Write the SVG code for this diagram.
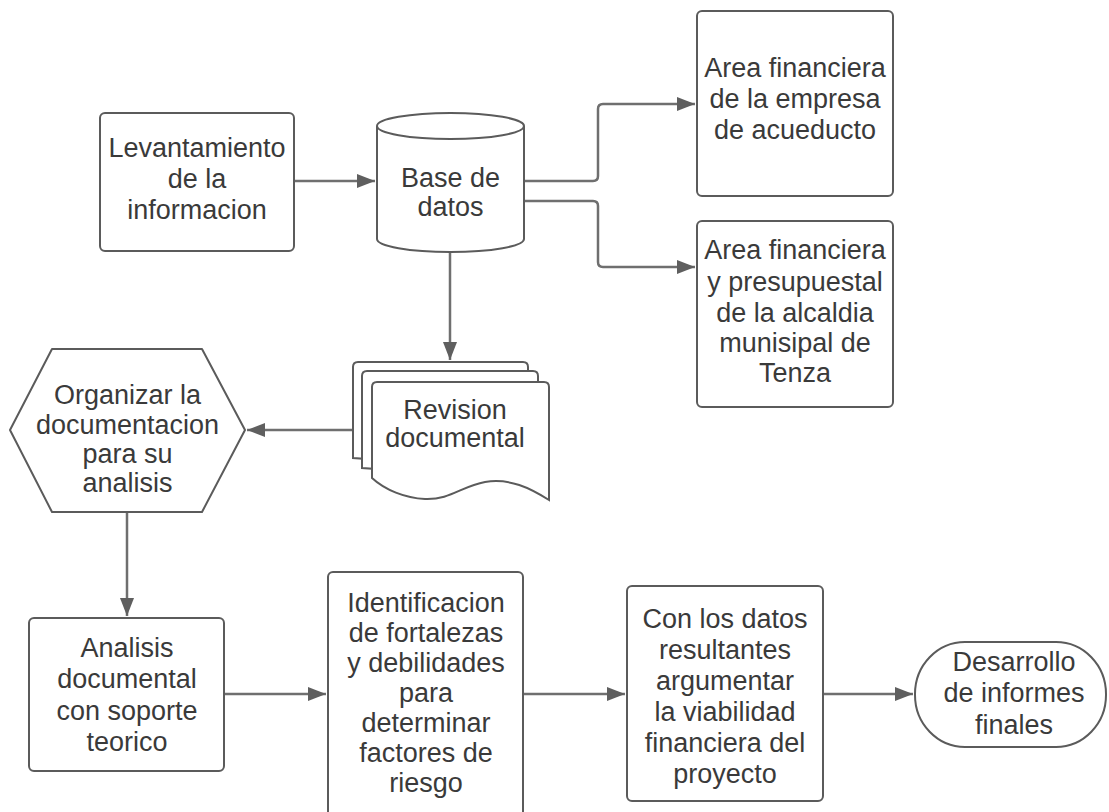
<svg xmlns="http://www.w3.org/2000/svg" width="1109" height="812" viewBox="0 0 1109 812">
<style>
.s{fill:#fff;stroke:#5b5b5b;stroke-width:2}
.t{font-family:"Liberation Sans",Arial,sans-serif;font-size:27px;fill:#3a3a3a;text-anchor:middle}
.c{fill:none;stroke:#6f6f6f;stroke-width:2.5}
</style>
<defs>
<marker id="ah" markerUnits="userSpaceOnUse" markerWidth="20" markerHeight="14" refX="18" refY="7" orient="auto">
<path d="M0,0 L18,7 L0,14 z" fill="#5f5f5f"/>
</marker>
</defs>
<rect width="1109" height="812" fill="#fff"/>
<g id="connectors">
<path class="c" d="M294,181 H375" marker-end="url(#ah)"/>
<path class="c" d="M524,181 H593 Q598,181 598,176 V109 Q598,104 603,104 H695" marker-end="url(#ah)"/>
<path class="c" d="M524,201 H593 Q598,201 598,206 V262 Q598,267 603,267 H695" marker-end="url(#ah)"/>
<path class="c" d="M450,252 V360" marker-end="url(#ah)"/>
<path class="c" d="M353,430 H247" marker-end="url(#ah)"/>
<path class="c" d="M127,512 V616" marker-end="url(#ah)"/>
<path class="c" d="M224,694 H326" marker-end="url(#ah)"/>
<path class="c" d="M523,694 H625" marker-end="url(#ah)"/>
<path class="c" d="M823,694 H913" marker-end="url(#ah)"/>
</g>
<g id="levantamiento">
<rect class="s" x="100" y="113" width="194" height="138" rx="5"/>
<text class="t"><tspan x="197" y="157">Levantamiento</tspan><tspan x="197" y="188">de la</tspan><tspan x="197" y="219">informacion</tspan></text>
</g>
<g id="base-datos">
<path class="s" d="M377,126 A73.5,13 0 0 1 524,126 V239 A73.5,13 0 0 1 377,239 Z"/>
<path class="s" fill="none" d="M377,126 A73.5,13 0 0 0 524,126"/>
<text class="t"><tspan x="450.5" y="187">Base de</tspan><tspan x="450.5" y="216">datos</tspan></text>
</g>
<g id="area-acueducto">
<rect class="s" x="697" y="11" width="196" height="185" rx="5"/>
<text class="t"><tspan x="795" y="77">Area financiera</tspan><tspan x="795" y="108">de la empresa</tspan><tspan x="795" y="139">de acueducto</tspan></text>
</g>
<g id="area-alcaldia">
<rect class="s" x="697" y="221" width="196" height="186" rx="5"/>
<text class="t"><tspan x="795" y="259">Area financiera</tspan><tspan x="795" y="291">y presupuestal</tspan><tspan x="795" y="322">de la alcaldia</tspan><tspan x="795" y="352">munisipal de</tspan><tspan x="795" y="382">Tenza</tspan></text>
</g>
<g id="revision">
<path class="s" d="M353,458 V367 Q353,362 358,362 H523 Q528,362 528,367 V470 Z"/>
<path class="s" d="M362,468 V376 Q362,371 367,371 H533 Q538,371 538,376 V480 Z"/>
<path class="s" d="M372,478 V387 Q372,382 377,382 H544 Q549,382 549,387 V500 C530,488 510,478 485,482 C462,486 450,500 425,499 C405,498 385,490 372,478 Z"/>
<text class="t"><tspan x="455" y="419">Revision</tspan><tspan x="455" y="447">documental</tspan></text>
</g>
<g id="organizar">
<path class="s" d="M10,430 L52,349 H202 L245,430 L202,512 H52 Z" stroke-linejoin="round"/>
<text class="t"><tspan x="127.5" y="404">Organizar la</tspan><tspan x="127.5" y="434">documentacion</tspan><tspan x="127.5" y="463">para su</tspan><tspan x="127.5" y="492">analisis</tspan></text>
</g>
<g id="analisis">
<rect class="s" x="29" y="618" width="195" height="153" rx="5"/>
<text class="t"><tspan x="127" y="657">Analisis</tspan><tspan x="127" y="688">documental</tspan><tspan x="127" y="720">con soporte</tspan><tspan x="127" y="751">teorico</tspan></text>
</g>
<g id="identificacion">
<rect class="s" x="328" y="572" width="195" height="250" rx="5"/>
<text class="t"><tspan x="426" y="612">Identificacion</tspan><tspan x="426" y="642">de fortalezas</tspan><tspan x="426" y="672">y debilidades</tspan><tspan x="426" y="702">para</tspan><tspan x="426" y="732">determinar</tspan><tspan x="426" y="762">factores de</tspan><tspan x="426" y="792">riesgo</tspan></text>
</g>
<g id="con-datos">
<rect class="s" x="627" y="586" width="196" height="215" rx="5"/>
<text class="t"><tspan x="725" y="628">Con los datos</tspan><tspan x="725" y="659">resultantes</tspan><tspan x="725" y="690">argumentar</tspan><tspan x="725" y="721">la viabilidad</tspan><tspan x="725" y="752">financiera del</tspan><tspan x="725" y="783">proyecto</tspan></text>
</g>
<g id="desarrollo">
<rect class="s" x="915" y="642" width="191" height="105" rx="50" ry="52"/>
<text class="t"><tspan x="1014" y="671">Desarrollo</tspan><tspan x="1014" y="702">de informes</tspan><tspan x="1014" y="734">finales</tspan></text>
</g>
</svg>
